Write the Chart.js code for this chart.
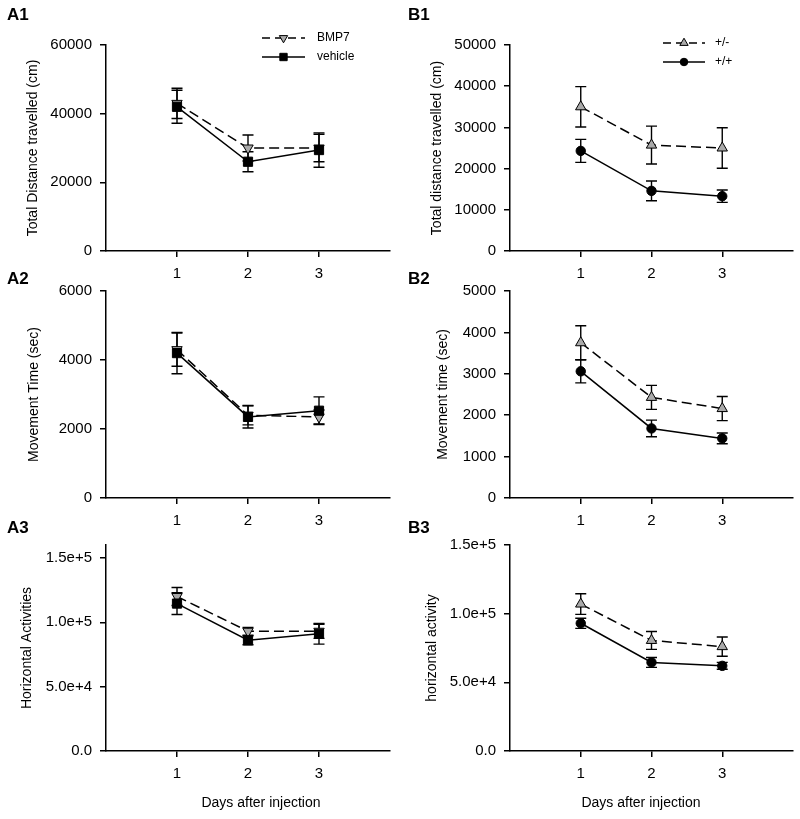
<!DOCTYPE html>
<html>
<head>
<meta charset="utf-8">
<title>Activity after injection</title>
<script src="https://cdn.jsdelivr.net/npm/chart.js@4.4.1/dist/chart.umd.min.js"></script>
<style>
  body { margin: 0; background: #fff; }
  #wrap { position: relative; width: 800px; height: 819px; overflow: hidden; }
  #wrap canvas { position: absolute; }
</style>
</head>
<body>
<div id="wrap">
  <canvas id="a1" width="400" height="285" style="left:0;top:0"></canvas>
  <canvas id="b1" width="400" height="285" style="left:400px;top:0"></canvas>
  <canvas id="a2" width="400" height="285" style="left:0;top:260px"></canvas>
  <canvas id="b2" width="400" height="285" style="left:400px;top:260px"></canvas>
  <canvas id="a3" width="400" height="299" style="left:0;top:520px"></canvas>
  <canvas id="b3" width="400" height="299" style="left:400px;top:520px"></canvas>
</div>
<script>
// days on the x axis
const days = [1, 2, 3];

// A panels: BMP7 vs vehicle (mean, error)
const a1Bmp7 = [43000, 30000, 30000];
const a1Bmp7Err = [4400, 3800, 4000];
const a1Vehicle = [42000, 26000, 29400];
const a1VehicleErr = [4800, 2900, 5000];

const a2Bmp7 = [4300, 2400, 2350];
const a2Bmp7Err = [480, 280, 200];
const a2Vehicle = [4200, 2350, 2530];
const a2VehicleErr = [600, 320, 400];

const a3Bmp7 = [120000, 93000, 93000];
const a3Bmp7Err = [7000, 3000, 5500];
const a3Vehicle = [114500, 86000, 91000];
const a3VehicleErr = [8500, 3500, 8000];

// B panels: +/- vs +/+
const b1Het = [35000, 25700, 25000];
const b1HetErr = [4900, 4600, 4900];
const b1Wt = [24300, 14600, 13300];
const b1WtErr = [2800, 2400, 1500];

const b2Het = [3750, 2430, 2160];
const b2HetErr = [410, 290, 290];
const b2Wt = [3060, 1680, 1440];
const b2WtErr = [280, 200, 130];

const b3Het = [107000, 80500, 76000];
const b3HetErr = [7500, 6500, 7000];
const b3Wt = [93000, 64500, 62000];
const b3WtErr = [3700, 3600, 2500];

// y ticks
const a1YTicks = [0, 20000, 40000, 60000];
const a1YLabels = ['0', '20000', '40000', '60000'];
const a2YTicks = [0, 2000, 4000, 6000];
const a2YLabels = ['0', '2000', '4000', '6000'];
const a3YTicks = [0, 50000, 100000, 150000];
const a3YLabels = ['0.0', '5.0e+4', '1.0e+5', '1.5e+5'];
const b1YTicks = [0, 10000, 20000, 30000, 40000, 50000];
const b1YLabels = ['0', '10000', '20000', '30000', '40000', '50000'];
const b2YTicks = [0, 1000, 2000, 3000, 4000, 5000];
const b2YLabels = ['0', '1000', '2000', '3000', '4000', '5000'];
const b3YTicks = [0, 50000, 100000, 150000];
const b3YLabels = ['0.0', '5.0e+4', '1.0e+5', '1.5e+5'];

const black = '#000';
const grey = '#aaaaaa';
const family = '"Liberation Sans", Arial, Helvetica, sans-serif';

function series(label, values, errors, style) {
    return Object.assign({
        label: label,
        data: days.map((d, i) => ({ x: d, y: values[i] })),
        errors: errors,
        borderColor: black,
        borderWidth: 1.5,
        pointBorderColor: black,
        pointBorderWidth: 1,
        fill: false,
        tension: 0
    }, style);
}

const bmp7Style = { borderDash: [10, 5], pointStyle: 'triangle', pointRotation: 180, pointRadius: 6, pointBackgroundColor: grey, order: 1 };
const vehicleStyle = { pointStyle: 'rect', pointRadius: 6.5, pointBackgroundColor: black, order: 0 };
const hetStyle = { borderDash: [10, 5], pointStyle: 'triangle', pointRadius: 6, pointBackgroundColor: grey, order: 1 };
const wtStyle = { pointStyle: 'circle', pointRadius: 4.7, pointBackgroundColor: black, order: 0 };

// vertical error bars with caps
const errorBars = {
    id: 'errorBars',
    beforeDatasetsDraw(chart) {
        const ctx = chart.ctx;
        const xs = chart.scales.x, ys = chart.scales.y;
        ctx.save();
        ctx.strokeStyle = black;
        ctx.lineWidth = 1.4;
        chart.data.datasets.forEach(ds => {
            ds.data.forEach((p, i) => {
                const px = xs.getPixelForValue(p.x);
                const top = ys.getPixelForValue(p.y + ds.errors[i]);
                const bot = ys.getPixelForValue(p.y - ds.errors[i]);
                ctx.beginPath();
                ctx.moveTo(px, top); ctx.lineTo(px, bot);
                ctx.moveTo(px - 5.5, top); ctx.lineTo(px + 5.5, top);
                ctx.moveTo(px - 5.5, bot); ctx.lineTo(px + 5.5, bot);
                ctx.stroke();
            });
        });
        ctx.restore();
    }
};

// legend: line sample with a (smaller) marker in the middle
const lineLegend = {
    id: 'lineLegend',
    afterDraw(chart, args, opts) {
        const ctx = chart.ctx;
        chart.data.datasets.forEach((ds, i) => {
            const y = opts.y + i * opts.gap;
            ctx.save();
            ctx.strokeStyle = ds.borderColor;
            ctx.lineWidth = ds.borderWidth;
            ctx.setLineDash(ds.borderDash ? [8, 5] : []);
            ctx.beginPath();
            ctx.moveTo(opts.x, y);
            ctx.lineTo(opts.x + opts.len, y);
            ctx.stroke();
            ctx.setLineDash([]);
            ctx.fillStyle = ds.pointBackgroundColor;
            ctx.strokeStyle = ds.pointBorderColor;
            ctx.lineWidth = ds.pointBorderWidth;
            Chart.helpers.drawPoint(ctx, {
                pointStyle: ds.pointStyle,
                rotation: ds.pointRotation || 0,
                radius: ds.pointRadius * 0.8,
                borderWidth: ds.pointBorderWidth
            }, opts.x + opts.len / 2, y);
            ctx.fillStyle = black;
            ctx.font = '12px ' + family;
            ctx.textAlign = 'left';
            ctx.textBaseline = 'middle';
            ctx.fillText(ds.label, opts.textX, y);
            ctx.restore();
        });
    }
};

// panel letters and the shared x title
const panelText = {
    id: 'panelText',
    afterDraw(chart, args, opts) {
        const ctx = chart.ctx;
        (opts.items || []).forEach(t => {
            ctx.save();
            ctx.fillStyle = black;
            ctx.font = t.style;
            ctx.textAlign = t.align;
            ctx.textBaseline = 'middle';
            ctx.fillText(t.text, t.x, t.y);
            ctx.restore();
        });
    }
};

const axisLine = {
    grid: { display: true, drawOnChartArea: false, drawTicks: true, tickLength: 6, color: black, lineWidth: 1.5 },
    border: { display: true, color: black, width: 1.5 }
};

function panel(id, p) {
    new Chart(document.getElementById(id), {
        type: 'line',
        data: { datasets: p.datasets },
        options: {
            responsive: false,
            animation: false,
            events: [],
            layout: { padding: { top: p.top, right: p.right, left: 0, bottom: 0 } },
            plugins: {
                legend: { display: false },
                tooltip: { enabled: false },
                lineLegend: p.legend || false,
                panelText: { items: p.texts }
            },
            scales: {
                x: Object.assign({
                    type: 'linear',
                    min: 0,
                    max: 4,
                    afterBuildTicks: s => { s.ticks = days.map(v => ({ value: v })); },
                    afterFit: s => { s.height = p.xHeight; },
                    ticks: { font: { family: family, size: 15 }, color: black, padding: 8, maxRotation: 0, autoSkip: false }
                }, axisLine),
                y: Object.assign({
                    type: 'linear',
                    min: 0,
                    max: p.yMax,
                    afterBuildTicks: s => { s.ticks = p.yTicks.map(v => ({ value: v })); },
                    afterFit: s => { s.width = p.yWidth; },
                    ticks: {
                        font: { family: family, size: 15 },
                        color: black,
                        padding: 8,
                        autoSkip: false,
                        callback: v => p.yLabels[p.yTicks.indexOf(v)]
                    },
                    title: {
                        display: true,
                        text: p.yTitle,
                        color: black,
                        font: { family: family, size: 14 },
                        padding: { top: p.titlePad, bottom: 0 }
                    }
                }, axisLine)
            }
        },
        plugins: [errorBars, lineLegend, panelText]
    });
}

const letterFont = 'bold 17px ' + family;
const titleFont = '14px ' + family;

panel('a1', {
    datasets: [series('BMP7', a1Bmp7, a1Bmp7Err, bmp7Style), series('vehicle', a1Vehicle, a1VehicleErr, vehicleStyle)],
    yTicks: a1YTicks, yLabels: a1YLabels, yMax: 60000,
    yTitle: 'Total Distance travelled (cm)', titlePad: 25,
    top: 45, right: 10, xHeight: 34, yWidth: 106,
    legend: { x: 262, y: 38, gap: 19, len: 43, textX: 317 },
    texts: [{ text: 'A1', x: 7, y: 15, style: letterFont, align: 'left' }]
});
panel('b1', {
    datasets: [series('+/-', b1Het, b1HetErr, hetStyle), series('+/+', b1Wt, b1WtErr, wtStyle)],
    yTicks: b1YTicks, yLabels: b1YLabels, yMax: 50000,
    yTitle: 'Total distance travelled (cm)', titlePad: 29,
    top: 45, right: 5, xHeight: 34, yWidth: 110,
    legend: { x: 263, y: 43, gap: 19, len: 42, textX: 315 },
    texts: [{ text: 'B1', x: 8, y: 15, style: letterFont, align: 'left' }]
});
panel('a2', {
    datasets: [series('BMP7', a2Bmp7, a2Bmp7Err, bmp7Style), series('vehicle', a2Vehicle, a2VehicleErr, vehicleStyle)],
    yTicks: a2YTicks, yLabels: a2YLabels, yMax: 6000,
    yTitle: 'Movement Time (sec)', titlePad: 26,
    top: 31, right: 10, xHeight: 47, yWidth: 106,
    texts: [{ text: 'A2', x: 7, y: 19, style: letterFont, align: 'left' }]
});
panel('b2', {
    datasets: [series('+/-', b2Het, b2HetErr, hetStyle), series('+/+', b2Wt, b2WtErr, wtStyle)],
    yTicks: b2YTicks, yLabels: b2YLabels, yMax: 5000,
    yTitle: 'Movement time (sec)', titlePad: 35,
    top: 31, right: 5, xHeight: 47, yWidth: 110,
    texts: [{ text: 'B2', x: 8, y: 19, style: letterFont, align: 'left' }]
});
panel('a3', {
    datasets: [series('BMP7', a3Bmp7, a3Bmp7Err, bmp7Style), series('vehicle', a3Vehicle, a3VehicleErr, vehicleStyle)],
    yTicks: a3YTicks, yLabels: a3YLabels, yMax: 160000,
    yTitle: 'Horizontal Activities', titlePad: 19,
    top: 25, right: 10, xHeight: 68, yWidth: 106,
    texts: [
        { text: 'A3', x: 7, y: 8, style: letterFont, align: 'left' },
        { text: 'Days after injection', x: 261, y: 283, style: titleFont, align: 'center' }
    ]
});
panel('b3', {
    datasets: [series('+/-', b3Het, b3HetErr, hetStyle), series('+/+', b3Wt, b3WtErr, wtStyle)],
    yTicks: b3YTicks, yLabels: b3YLabels, yMax: 150000,
    yTitle: 'horizontal activity', titlePad: 24,
    top: 25, right: 5, xHeight: 68, yWidth: 110,
    texts: [
        { text: 'B3', x: 8, y: 8, style: letterFont, align: 'left' },
        { text: 'Days after injection', x: 241, y: 283, style: titleFont, align: 'center' }
    ]
});
</script>
</body>
</html>
